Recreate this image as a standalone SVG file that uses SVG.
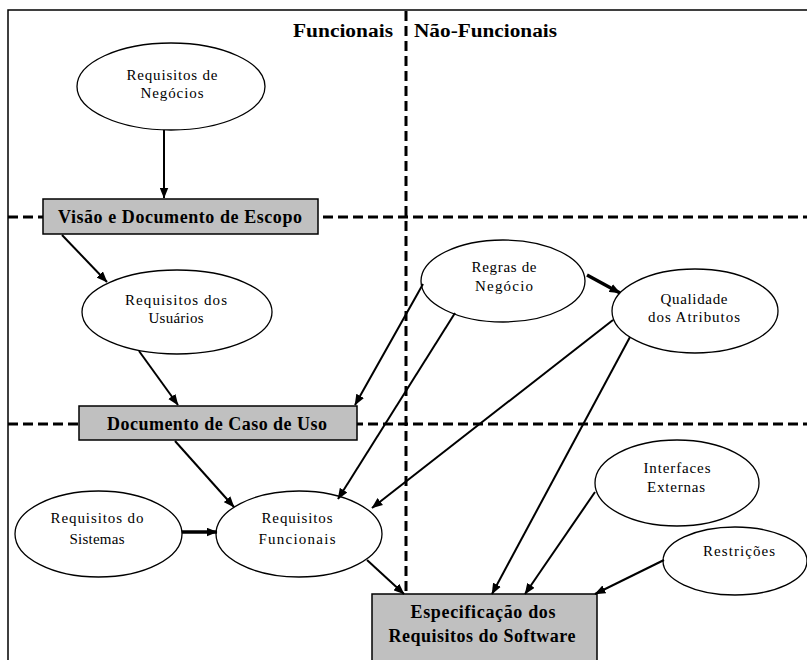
<svg xmlns="http://www.w3.org/2000/svg" width="807" height="660" viewBox="0 0 807 660">
  <style>
    .frame { stroke: #000; stroke-width: 1.5; fill: none; }
    .divider { stroke: #000; stroke-width: 3; stroke-dasharray: 10 5; fill: none; }
    .oval { fill: #fff; stroke: #000; stroke-width: 1.3; }
    .box { fill: #c0c0c0; stroke: #000; stroke-width: 1.5; }
    .lbl { font-family: "Liberation Serif", "Times New Roman", serif; font-size: 15px; fill: #000; text-anchor: middle; }
    .blbl { font-family: "Liberation Serif", "Times New Roman", serif; font-size: 18px; font-weight: bold; fill: #000; text-anchor: middle; }
    .head { font-family: "Liberation Serif", "Times New Roman", serif; font-size: 18px; font-weight: bold; fill: #000; }
    .edge { stroke: #000; stroke-width: 2; fill: none; marker-end: url(#arrow); }
    .edge-thick { stroke: #000; stroke-width: 3.5; fill: none; marker-end: url(#arrow); }
  </style>
  <defs>
    <marker id="arrow" viewBox="0 0 10 8" refX="9.5" refY="4" markerWidth="11" markerHeight="9" orient="auto" markerUnits="userSpaceOnUse">
      <path d="M0,0 L10,4 L0,8 z" fill="#000"/>
    </marker>
  </defs>
  <rect width="807" height="660" fill="#fff"/>

  <!-- frame and quadrant dividers -->
  <g id="frame">
    <path class="frame" d="M8,660 L8,10 L807,10"/>
    <line class="divider" x1="406" y1="11" x2="406" y2="594"/>
    <line class="divider" x1="8" y1="217" x2="807" y2="217"/>
    <line class="divider" x1="8" y1="424" x2="807" y2="424"/>
    <text class="head" x="293" y="37" textLength="100" lengthAdjust="spacingAndGlyphs">Funcionais</text>
    <text class="head" x="414" y="37" textLength="143" lengthAdjust="spacingAndGlyphs">Não-Funcionais</text>
  </g>

  <g id="requisitos-negocios">
    <ellipse class="oval" cx="171" cy="86.5" rx="94" ry="43.5"/>
    <text class="lbl" x="172" y="80" textLength="91">Requisitos de</text>
    <text class="lbl" x="172" y="98" textLength="63">Negócios</text>
  </g>

  <g id="visao-escopo">
    <rect class="box" x="43" y="199" width="275" height="35"/>
    <text class="blbl" x="180" y="223" textLength="244">Visão e Documento de Escopo</text>
  </g>

  <g id="requisitos-usuarios">
    <ellipse class="oval" cx="177" cy="312" rx="95" ry="42"/>
    <text class="lbl" x="176" y="305" textLength="102">Requisitos dos</text>
    <text class="lbl" x="176" y="323" textLength="55">Usuários</text>
  </g>

  <g id="caso-de-uso">
    <rect class="box" x="79" y="406" width="278" height="34"/>
    <text class="blbl" x="217" y="430" textLength="220">Documento de Caso de Uso</text>
  </g>

  <g id="regras-negocio">
    <ellipse class="oval" cx="503" cy="281" rx="82" ry="41"/>
    <text class="lbl" x="504" y="272" textLength="65">Regras de</text>
    <text class="lbl" x="504" y="291" textLength="58">Negócio</text>
  </g>

  <g id="qualidade-atributos">
    <ellipse class="oval" cx="695" cy="311" rx="83" ry="42"/>
    <text class="lbl" x="694" y="304" textLength="67">Qualidade</text>
    <text class="lbl" x="694" y="322" textLength="92">dos Atributos</text>
  </g>

  <g id="requisitos-sistemas">
    <ellipse class="oval" cx="98.5" cy="534" rx="83.5" ry="43"/>
    <text class="lbl" x="97" y="523" textLength="93">Requisitos do</text>
    <text class="lbl" x="97" y="544" textLength="55">Sistemas</text>
  </g>

  <g id="requisitos-funcionais">
    <ellipse class="oval" cx="299" cy="534" rx="83" ry="43"/>
    <text class="lbl" x="297" y="523" textLength="71">Requisitos</text>
    <text class="lbl" x="297" y="544" textLength="77">Funcionais</text>
  </g>

  <g id="interfaces-externas">
    <ellipse class="oval" cx="677" cy="483" rx="82" ry="43"/>
    <text class="lbl" x="677" y="473" textLength="67">Interfaces</text>
    <text class="lbl" x="676" y="492" textLength="58">Externas</text>
  </g>

  <g id="restricoes">
    <ellipse class="oval" cx="735" cy="561" rx="72" ry="34"/>
    <text class="lbl" x="739" y="556" textLength="72">Restrições</text>
  </g>

  <g id="especificacao">
    <rect class="box" x="372" y="594" width="225" height="72"/>
    <text class="blbl" x="483" y="618" textLength="145">Especificação dos</text>
    <text class="blbl" x="482" y="642" textLength="187">Requisitos do Software</text>
  </g>

  <!-- connectors -->
  <g id="connectors">
    <line class="edge" x1="164" y1="130" x2="164" y2="198"/>
    <line class="edge" x1="62" y1="235" x2="107" y2="282"/>
    <line class="edge" x1="139" y1="351" x2="178" y2="405"/>
    <line class="edge" x1="175" y1="441" x2="234" y2="507"/>
    <line class="edge-thick" x1="182" y1="532" x2="217" y2="532"/>
    <line class="edge" x1="367" y1="560" x2="404" y2="594"/>
    <line class="edge-thick" x1="587" y1="275" x2="620" y2="293"/>
    <line class="edge" x1="423" y1="284" x2="355" y2="405"/>
    <line class="edge" x1="455" y1="313" x2="338" y2="499"/>
    <line class="edge" x1="613" y1="320" x2="372" y2="508"/>
    <line class="edge" x1="630" y1="337" x2="492" y2="594"/>
    <line class="edge" x1="595" y1="492" x2="525" y2="594"/>
    <line class="edge" x1="664" y1="560" x2="595" y2="594"/>
  </g>
</svg>
